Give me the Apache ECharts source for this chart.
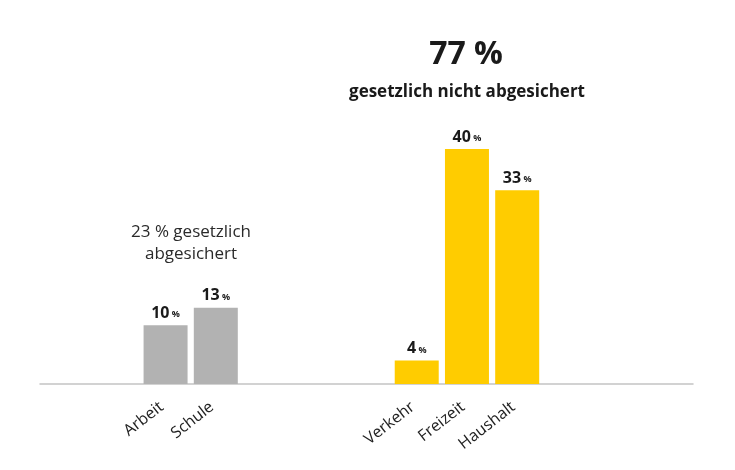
<!DOCTYPE html>
<html lang="de">

<head>
    <meta charset="UTF-8">
    <title>Unfälle</title>
    <script src="https://cdn.jsdelivr.net/npm/echarts@6/dist/echarts.min.js"></script>
    <style>
        body { margin: 0; background: #fff; }
    </style>
</head>

<body>
    <div id="main" style="width: 735px;height:470px;"></div>

    <script type="text/javascript">
        // categories (empty slots keep the gaps between the groups)
        const categories = ['', '', 'Arbeit', 'Schule', '', '', '', 'Verkehr', 'Freizeit', 'Haushalt', '', '', ''];
        const insuredValues = [null, null, 10, 13, null, null, null, null, null, null, null, null, null];
        const uninsuredValues = [null, null, null, null, null, null, null, 4, 40, 33, null, null, null];

        let myChart = echarts.init(document.getElementById('main'));

        const font = '"Open Sans", "Noto Sans", sans-serif';

        const barLabel = {
            show: true,
            position: 'top',
            distance: 4,
            formatter: p => '{n|' + p.value + '}{p| %}',
            rich: {
                n: { fontFamily: font, fontWeight: 'bold', fontSize: 16, color: '#1a1a1a' },
                p: { fontFamily: font, fontWeight: 'bold', fontSize: 9, color: '#1a1a1a', padding: [3, 0, 0, 0] }
            }
        };

        let options = {
            animation: false,
            textStyle: { fontFamily: font },
            title: [
                {
                    text: '77 %',
                    left: 461, top: 34, textAlign: 'center',
                    textStyle: { fontSize: 32, fontWeight: 'bold', color: '#1a1a1a', fontFamily: font }
                },
                {
                    text: 'gesetzlich nicht abgesichert',
                    left: 462, top: 79, textAlign: 'center',
                    textStyle: { fontSize: 17, fontWeight: 'bold', color: '#1a1a1a', fontFamily: font }
                },
                {
                    text: '23 % gesetzlich\nabgesichert',
                    left: 186, top: 216, textAlign: 'center',
                    textStyle: { fontSize: 17, fontWeight: 'normal', color: '#2a2a2a', lineHeight: 22, fontFamily: font }
                }
            ],
            grid: { left: 40, width: 653, top: 149, bottom: 86, containLabel: false },
            xAxis: {
                type: 'category',
                data: categories,
                axisLine: { lineStyle: { color: '#c4c4c4', width: 1.5 } },
                axisTick: { show: false },
                axisLabel: {
                    rotate: 38,
                    margin: 18,
                    padding: [0, 5, 0, 0],
                    interval: 0,
                    fontSize: 16,
                    color: '#222',
                    fontFamily: font
                }
            },
            yAxis: {
                type: 'value',
                min: 0,
                max: 40,
                show: false
            },
            series: [
                {
                    name: 'gesetzlich abgesichert',
                    type: 'bar',
                    stack: 'a',
                    barWidth: 44,
                    data: insuredValues,
                    itemStyle: { color: '#b2b2b2' },
                    label: barLabel
                },
                {
                    name: 'gesetzlich nicht abgesichert',
                    type: 'bar',
                    stack: 'a',
                    barWidth: 44,
                    data: uninsuredValues,
                    itemStyle: { color: '#ffcc00' },
                    label: barLabel
                }
            ]
        };

        myChart.setOption(options);
    </script>
</body>

</html>
